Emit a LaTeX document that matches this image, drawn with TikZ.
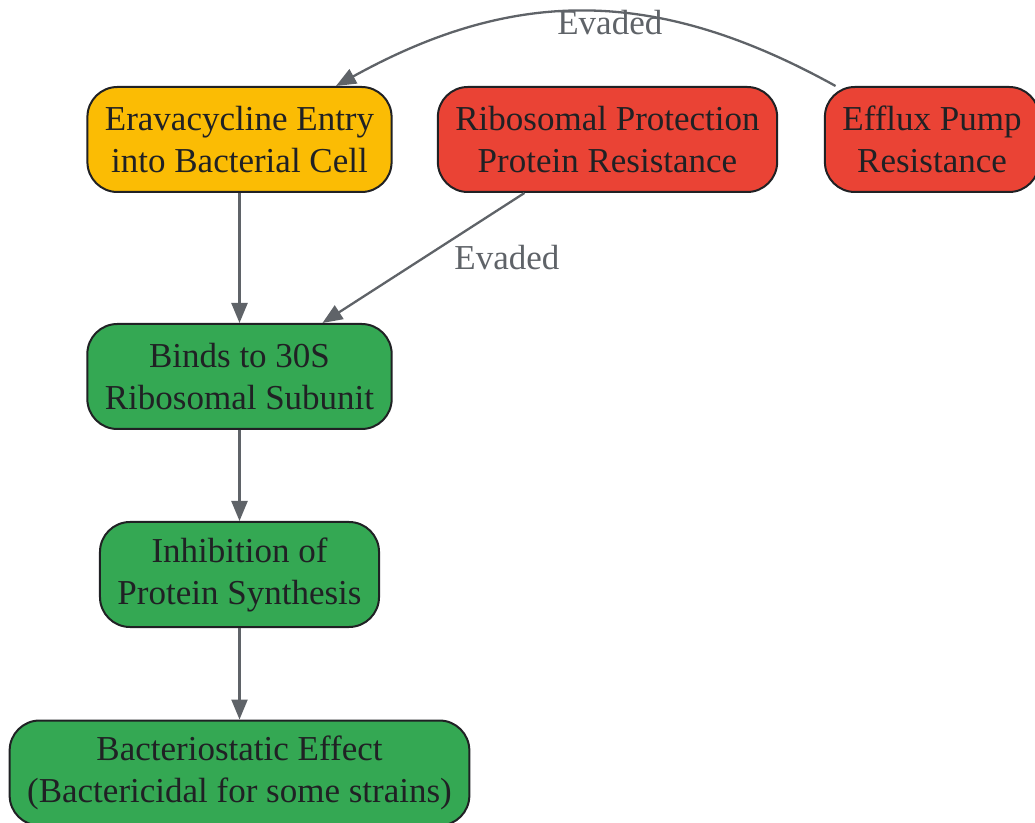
\documentclass[tikz,border=0pt]{standalone}
\usepackage{fontspec}
\setmainfont{Liberation Serif}
\usetikzlibrary{arrows.meta}

\definecolor{entryyellow}{HTML}{FBBC04}
\definecolor{resistred}{HTML}{EA4335}
\definecolor{actiongreen}{HTML}{34A853}
\definecolor{edgegray}{HTML}{5F6368}
\definecolor{inkdark}{HTML}{202124}

\begin{document}
\begin{tikzpicture}[
  x=1pt,y=1pt,
  every node/.style={
    draw=inkdark,
    line width=2pt,
    rectangle,
    rounded corners=30pt,
    align=center,
    minimum height=105pt,
    inner xsep=17.5pt,
    text=inkdark,
    font=\fontsize{35}{42}\selectfont,
  },
  flow/.style={
    draw=edgegray,
    line width=2.3pt,
    -{Triangle[length=20pt,width=16pt]},
  },
  evaded/.style={
    draw=none,
    fill=none,
    text=edgegray,
    minimum height=0pt,
    inner sep=0pt,
  }
]
\useasboundingbox (0,0) rectangle (1035,822);

\node[fill=entryyellow] at (239.5,682.5) (entry) {Eravacycline Entry\\into Bacterial Cell};
\node[fill=resistred] at (607.5,682.5) (ribo) {Ribosomal Protection\\Protein Resistance};
\node[fill=resistred] at (932,682.5) (efflux) {Efflux Pump\\Resistance};
\node[fill=actiongreen] at (239.5,445.5) (binds) {Binds to 30S\\Ribosomal Subunit};
\node[fill=actiongreen] at (239.5,247.5) (inhib) {Inhibition of\\Protein Synthesis};
\node[fill=actiongreen] at (239.5,49) (effect) {Bacteriostatic Effect\\(Bactericidal for some strains)};

\path[flow] (entry) -- (binds);
\path[flow] (binds) -- (inhib);
\path[flow] (inhib) -- (effect);
\path[flow] (ribo) -- node[evaded,midway,anchor=west,xshift=30pt] {Evaded} (binds);
\path[flow] (efflux) to[out=151,in=29,looseness=1.05] node[evaded,pos=0.45,yshift=-10pt] {Evaded} (entry);
\end{tikzpicture}
\end{document}
